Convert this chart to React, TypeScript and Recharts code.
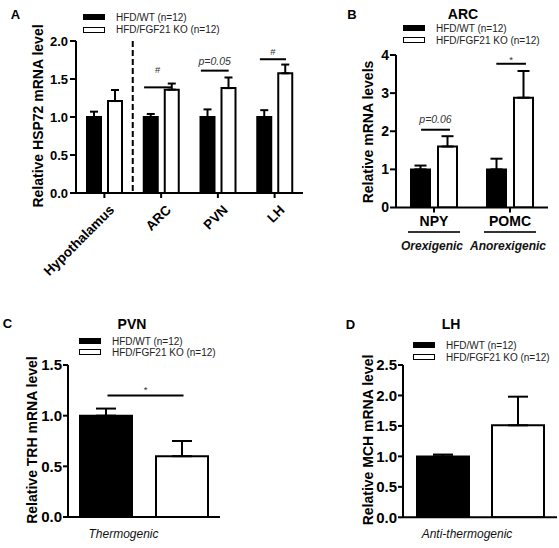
import React from 'react';
import { BarChart, Bar, XAxis, YAxis, ErrorBar, ReferenceArea, Legend } from 'recharts';

const FONT = 'Arial, "Liberation Sans", Helvetica, sans-serif';

const seriesNames = ['HFD/WT (n=12)', 'HFD/FGF21 KO (n=12)'];
const seriesFills = ['#000000', '#ffffff'];

// Panel A – HSP72
const regionsA = ['Hypothalamus', 'ARC', 'PVN', 'LH'];
const wtA = [1.0, 1.0, 1.0, 1.0];
const wtErrA = [0.07, 0.04, 0.1, 0.09];
const koA = [1.21, 1.36, 1.38, 1.575];
const koErrA = [0.145, 0.08, 0.14, 0.115];
const sigCatA = ['ARC', 'PVN', 'LH'];
const sigFromA = [0.2, 0.2, 0.24];
const sigToA = [0.68, 0.69, 0.7];
const sigYA = [1.39, 1.61, 1.76];
const sigTextA = ['#', 'p=0.05', '#'];
const sigOffA = [14, 6, 4];
const ticksA = [0, 0.5, 1, 1.5, 2];

// Panel B – ARC
const genesB = ['NPY', 'POMC'];
const rolesB = ['Orexigenic', 'Anorexigenic'];
const wtB = [1.0, 1.0];
const wtErrB = [0.1, 0.28];
const koB = [1.6, 2.88];
const koErrB = [0.27, 0.7];
const sigCatB = ['NPY', 'POMC'];
const sigFromB = [0.33, 0.32];
const sigToB = [0.71, 0.71];
const sigYB = [2.04, 3.77];
const sigTextB = ['p=0.06', '*'];
const sigOffB = [7, 1];
const ticksB = [0, 1, 2, 3, 4];

// Panel C – PVN TRH
const genesC = ['TRH'];
const wtC = [1.0];
const wtErrC = [0.07];
const koC = [0.6];
const koErrC = [0.15];
const sigCatC = ['TRH'];
const sigFromC = [0.26];
const sigToC = [0.76];
const sigYC = [1.2];
const sigTextC = ['*'];
const sigOffC = [2];
const ticksC = [0, 0.5, 1, 1.5];

// Panel D – LH MCH
const genesD = ['MCH'];
const wtD = [1.0];
const wtErrD = [0.03];
const koD = [1.51];
const koErrD = [0.47];
const ticksD = [0, 0.5, 1, 1.5, 2, 2.5];

type Row = { name: string; wt: number; wtErr: number[]; ko: number; koErr: number[] };
const buildRows = (cats: string[], wt: number[], wtE: number[], ko: number[], koE: number[]): Row[] =>
  cats.map((c, i) => ({ name: c, wt: wt[i], wtErr: [0, wtE[i]], ko: ko[i], koErr: [0, koE[i]] }));

type Sig = { cat: string; from: number; to: number; y: number; text: string; off: number };
const buildSig = (c: string[], f: number[], t: number[], y: number[], s: string[], o: number[]): Sig[] =>
  c.map((v, i) => ({ cat: v, from: f[i], to: t[i], y: y[i], text: s[i], off: o[i] }));

const makeLegend = (spacing: number) => (props: any) => {
  const items = [...(props.payload || [])].sort(
    (a: any, b: any) => seriesNames.indexOf(a.value) - seriesNames.indexOf(b.value)
  );
  return (
    <div style={{ fontFamily: FONT, fontSize: 10, color: '#222' }}>
      {items.map((e: any, i: number) => {
        const idx = seriesNames.indexOf(e.value);
        return (
          <div key={i} style={{ display: 'flex', alignItems: 'center', height: spacing }}>
            <div
              style={{
                width: 22,
                height: 6,
                boxSizing: 'border-box',
                border: '1.5px solid #000',
                background: seriesFills[idx >= 0 ? idx : i],
                marginRight: 11,
                flex: 'none',
              }}
            />
            <span style={{ whiteSpace: 'nowrap' }}>{e.value}</span>
          </div>
        );
      })}
    </div>
  );
};

const TickB = (props: any) => {
  const { x, y, payload } = props;
  const i = genesB.indexOf(payload.value);
  return (
    <g>
      <text x={x} y={y + 11.5} textAnchor="middle" fontFamily={FONT} fontSize={14} fontWeight="bold" fill="#000">
        {payload.value}
      </text>
      <line x1={x - 26} x2={x + 26} y1={y + 17.5} y2={y + 17.5} stroke="#333" strokeWidth={2} />
      <text
        x={x - 2}
        y={y + 35}
        textAnchor="middle"
        fontFamily={FONT}
        fontSize={12}
        fontStyle="italic"
        fontWeight="bold"
        fill="#111"
      >
        {rolesB[i]}
      </text>
    </g>
  );
};

const makeSigShape = (s: Sig) => (props: any) => {
  const { x, y, width, height } = props;
  const ly = y + height;
  const x1 = x + s.from * width;
  const x2 = x + s.to * width;
  const long = s.text.length > 1;
  return (
    <g>
      <line x1={x1} x2={x2} y1={ly} y2={ly} stroke="#000" strokeWidth={2} />
      <text
        x={(x1 + x2) / 2}
        y={ly - s.off}
        textAnchor="middle"
        fontFamily={FONT}
        fontSize={long ? 10.5 : 9.5}
        fontStyle={long ? 'italic' : 'normal'}
        fill="#333"
      >
        {s.text}
      </text>
    </g>
  );
};

const DividerShape = (props: any) => {
  const { x, y, width, height } = props;
  const lx = x + width;
  return <line x1={lx} x2={lx} y1={y} y2={y + height} stroke="#000" strokeWidth={2} strokeDasharray="6 3" />;
};

type PanelProps = {
  left: number;
  top: number;
  width: number;
  height: number;
  margin: { top: number; right: number; bottom: number; left: number };
  yWidth: number;
  data: Row[];
  ticks: number[];
  fmt: (v: number) => string;
  tickFont: number;
  yTickSize: number;
  yTickMargin: number;
  barSize: number;
  barGap: number;
  xTick: any;
  xTickLine: boolean;
  xHeight: number;
  sig: Sig[];
  errWidth: number;
  legendTop: number;
  legendLeft: number;
  legendSpacing: number;
  dividerAfter?: string;
};

const axisStyle = { stroke: '#000', strokeWidth: 2 };

function Panel(p: PanelProps) {
  const yMin = p.ticks[0];
  const yMax = p.ticks[p.ticks.length - 1];
  return (
    <div style={{ position: 'absolute', left: p.left, top: p.top }}>
      <BarChart width={p.width} height={p.height} data={p.data} margin={p.margin} barSize={p.barSize} barGap={p.barGap}>
        <XAxis
          dataKey="name"
          axisLine={axisStyle}
          tickLine={p.xTickLine ? axisStyle : false}
          tickSize={5}
          tickMargin={2}
          tick={p.xTick}
          height={p.xHeight}
          interval={0}
        />
        <YAxis
          domain={[yMin, yMax]}
          ticks={p.ticks}
          allowDataOverflow
          width={p.yWidth}
          axisLine={axisStyle}
          tickLine={axisStyle}
          tickSize={p.yTickSize}
          tickMargin={p.yTickMargin}
          tick={{ fill: '#000', fontSize: p.tickFont, fontWeight: 'bold', fontFamily: FONT }}
          tickFormatter={p.fmt}
          interval={0}
        />
        <Legend
          layout="vertical"
          verticalAlign="middle"
          align="center"
          wrapperStyle={{ top: p.legendTop, left: p.legendLeft, width: 'auto' }}
          content={makeLegend(p.legendSpacing)}
        />
        <Bar dataKey="wt" name={seriesNames[0]} fill={seriesFills[0]} stroke="#000" strokeWidth={2} isAnimationActive={false}>
          <ErrorBar dataKey="wtErr" width={p.errWidth} stroke="#000" strokeWidth={2} direction="y" />
        </Bar>
        <Bar dataKey="ko" name={seriesNames[1]} fill={seriesFills[1]} stroke="#000" strokeWidth={2} isAnimationActive={false}>
          <ErrorBar dataKey="koErr" width={p.errWidth} stroke="#000" strokeWidth={2} direction="y" />
        </Bar>
        {p.dividerAfter && (
          <ReferenceArea
            x1={p.dividerAfter}
            x2={p.dividerAfter}
            y1={yMin}
            y2={yMax}
            ifOverflow="visible"
            shape={DividerShape}
          />
        )}
        {p.sig.map((s, i) => (
          <ReferenceArea
            key={i}
            x1={s.cat}
            x2={s.cat}
            y1={s.y}
            y2={yMax}
            ifOverflow="visible"
            shape={makeSigShape(s)}
          />
        ))}
      </BarChart>
    </div>
  );
}

type TxtProps = {
  x: number;
  y: number;
  size: number;
  bold?: boolean;
  italic?: boolean;
  rotate?: boolean;
  color?: string;
  children: React.ReactNode;
};

function Txt({ x, y, size, bold, italic, rotate, color, children }: TxtProps) {
  return (
    <div
      style={{
        position: 'absolute',
        left: x,
        top: y,
        fontFamily: FONT,
        fontSize: size,
        fontWeight: bold ? 'bold' : 'normal',
        fontStyle: italic ? 'italic' : 'normal',
        color: color || '#000',
        lineHeight: 1,
        whiteSpace: 'nowrap',
        transform: `translate(-50%, -50%)${rotate ? ' rotate(-90deg)' : ''}`,
      }}
    >
      {children}
    </div>
  );
}

const fmt1 = (v: number) => v.toFixed(1);
const fmt0 = (v: number) => String(v);

const tickStyleA = {
  angle: -45,
  textAnchor: 'end',
  verticalAnchor: 'middle',
  dx: 4,
  dy: 4,
  fontSize: 13.5,
  fontWeight: 'bold',
  fontFamily: FONT,
  fill: '#000',
};

export default function App() {
  const dataA = buildRows(regionsA, wtA, wtErrA, koA, koErrA);
  const dataB = buildRows(genesB, wtB, wtErrB, koB, koErrB);
  const dataC = buildRows(genesC, wtC, wtErrC, koC, koErrC);
  const dataD = buildRows(genesD, wtD, wtErrD, koD, koErrD);
  const sigA = buildSig(sigCatA, sigFromA, sigToA, sigYA, sigTextA, sigOffA);
  const sigB = buildSig(sigCatB, sigFromB, sigToB, sigYB, sigTextB, sigOffB);
  const sigC = buildSig(sigCatC, sigFromC, sigToC, sigYC, sigTextC, sigOffC);

  return (
    <div style={{ position: 'absolute', left: 0, top: 0, width: 559, height: 548, background: '#fff', overflow: 'hidden' }}>
      <Panel
        left={0}
        top={280}
        width={280}
        height={268}
        margin={{ top: 85, right: 60, bottom: 11, left: 28 }}
        yWidth={40}
        data={dataC}
        ticks={ticksC}
        fmt={fmt1}
        tickFont={15}
        yTickSize={5}
        yTickMargin={1}
        barSize={52}
        barGap={24}
        xTick={false}
        xTickLine={false}
        xHeight={20}
        sig={sigC}
        errWidth={10}
        legendTop={55.5}
        legendLeft={79}
        legendSpacing={11}
      />
      <Panel
        left={280}
        top={280}
        width={279}
        height={268}
        margin={{ top: 85, right: 2, bottom: 10.7, left: 83 }}
        yWidth={40}
        data={dataD}
        ticks={ticksD}
        fmt={fmt1}
        tickFont={15}
        yTickSize={5}
        yTickMargin={1}
        barSize={52}
        barGap={23}
        xTick={false}
        xTickLine={false}
        xHeight={20}
        sig={[]}
        errWidth={10}
        legendTop={59}
        legendLeft={133}
        legendSpacing={12}
      />
      <Panel
        left={280}
        top={0}
        width={279}
        height={262}
        margin={{ top: 55, right: 11, bottom: 4.5, left: 86 }}
        yWidth={30}
        data={dataB}
        ticks={ticksB}
        fmt={fmt0}
        tickFont={14}
        yTickSize={6}
        yTickMargin={1}
        barSize={19}
        barGap={8}
        xTick={<TickB />}
        xTickLine={true}
        xHeight={50}
        sig={sigB}
        errWidth={6}
        legendTop={22}
        legendLeft={123}
        legendSpacing={12}
      />
      <Panel
        left={0}
        top={0}
        width={310}
        height={295}
        margin={{ top: 41, right: 7, bottom: 9, left: 20 }}
        yWidth={56}
        data={dataA}
        ticks={ticksA}
        fmt={fmt1}
        tickFont={13}
        yTickSize={6}
        yTickMargin={2}
        barSize={14}
        barGap={7}
        xTick={tickStyleA}
        xTickLine={true}
        xHeight={93}
        sig={sigA}
        errWidth={4}
        legendTop={11}
        legendLeft={83}
        legendSpacing={12.5}
        dividerAfter={regionsA[0]}
      />

      <Txt x={15.5} y={14} size={13} bold>A</Txt>
      <Txt x={352} y={13.5} size={13} bold>B</Txt>
      <Txt x={7.5} y={323} size={13} bold>C</Txt>
      <Txt x={350.5} y={323.5} size={13} bold>D</Txt>

      <Txt x={463} y={14} size={14} bold>ARC</Txt>
      <Txt x={132} y={323.5} size={14} bold>PVN</Txt>
      <Txt x={451} y={323.5} size={14} bold>LH</Txt>

      <Txt x={37.5} y={116} size={14} bold rotate>Relative HSP72 mRNA level</Txt>
      <Txt x={367.7} y={131.5} size={14} bold rotate>Relative mRNA levels</Txt>
      <Txt x={32} y={440} size={14} bold rotate>Relative TRH mRNA level</Txt>
      <Txt x={367.5} y={440} size={14} bold rotate>Relative MCH mRNA level</Txt>

      <Txt x={123.5} y={534} size={12} italic color="#111">Thermogenic</Txt>
      <Txt x={467} y={533.5} size={12} italic color="#111">Anti-thermogenic</Txt>
    </div>
  );
}
